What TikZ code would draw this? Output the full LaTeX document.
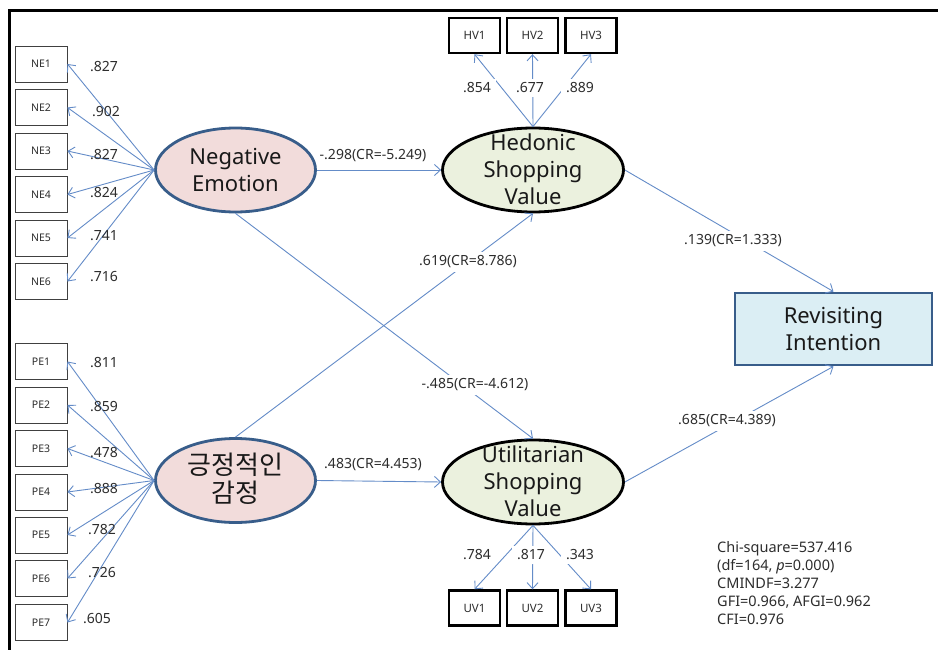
\documentclass[tikz,border=0pt]{standalone}
\usepackage{fontspec}
\setmainfont{Noto Sans}
\newfontfamily\kofont{Noto Sans CJK KR}
\usetikzlibrary{arrows.meta,shapes.geometric}
\definecolor{arr}{RGB}{100,140,200}
\definecolor{pinkf}{RGB}{242,220,219}
\definecolor{greenf}{RGB}{235,241,222}
\definecolor{bluef}{RGB}{219,238,244}
\definecolor{navy}{RGB}{56,93,138}
\definecolor{txt}{RGB}{45,45,45}
\begin{document}
\begin{tikzpicture}[x=1pt,y=-1pt,
  obsbox/.style={draw=black!75, line width=0.9pt, minimum width=52pt, minimum height=36pt, inner sep=0pt, font=\fontsize{10.5}{12}\selectfont, text=txt},
  hvbox/.style={draw=black, line width=2.4pt, minimum width=51pt, minimum height=35pt, inner sep=0pt, font=\fontsize{11.5}{13}\selectfont, text=txt},
  latent/.style={ellipse, draw=navy, line width=2.8pt, fill=pinkf, inner sep=0pt, minimum width=160pt, minimum height=84pt},
  valell/.style={ellipse, draw=black, line width=2.8pt, fill=greenf, inner sep=0pt, minimum width=181pt, minimum height=84pt},
  big/.style={align=center, inner sep=0pt, font=\fontsize{22}{27}\selectfont, text=black!90},
  kbig/.style={align=center, inner sep=0pt, font=\fontsize{26}{28}\selectfont\kofont, text=black!90},
  ribox/.style={draw=navy, line width=2.8pt, fill=bluef, minimum width=197pt, minimum height=72pt, inner sep=0pt, align=center, font=\fontsize{22}{27}\selectfont, text=black!90},
  ar/.style={draw=arr, line width=0.9pt, -{Straight Barb[length=6pt,width=11pt]}},
  lbl/.style={font=\fontsize{14}{15}\selectfont, text=txt, inner sep=1pt},
  wlbl/.style={lbl, fill=white, inner xsep=5pt, inner ysep=4pt},
  stats/.style={font=\fontsize{14.5}{18}\selectfont, text=txt, align=left, inner sep=0pt, anchor=north west}
]
\useasboundingbox (0,0) rectangle (938,650);
\fill[white] (0,0) rectangle (938,650);
\draw[line width=3pt] (938,10.5) -- (9,10.5) -- (9,650);

% observed boxes
\foreach \i/\y in {1/64,2/107.5,3/151,4/194.5,5/238,6/281.5}
  \node[obsbox] (ne\i) at (41,\y) {NE\i};
\foreach \i/\y in {1/361.5,2/405,3/448.5,4/492,5/535,6/578.5,7/622.5}
  \node[obsbox] (pe\i) at (41,\y) {PE\i};
\foreach \i/\x in {1/474.5,2/532.5,3/591}
  \node[hvbox] (hv\i) at (\x,35.5) {HV\i};
\foreach \i/\x in {1/474.5,2/532.5,3/591}
  \node[hvbox] (uv\i) at (\x,608) {UV\i};

% latent variables
\node[latent] (ne) at (235.5,170) {};
\node[big] (net) at (235.5,170) {Negative\\Emotion};
\node[latent] (pe) at (235.5,480.5) {};
\node[kbig] (pet) at (235.5,479) {긍정적인\\감정};
\node[valell] (hv) at (533,170) {};
\node[big] (hvt) at (533,169) {Hedonic\\Shopping\\Value};
\node[valell] (uv) at (533,482) {};
\node[big] (uvt) at (533,481) {Utilitarian\\Shopping\\Value};
\node[ribox] (ri) at (833.5,329) {Revisiting\\Intention};

% loadings
\foreach \i in {1,...,6} \draw[ar] (ne.west) -- (ne\i.east);
\foreach \i in {1,...,7} \draw[ar] (pe.west) -- (pe\i.east);
\foreach \i in {1,2,3} \draw[ar] (hv.north) -- (hv\i.south);
\foreach \i in {1,2,3} \draw[ar] (uv.south) -- (uv\i.north);

% structural paths
\draw[ar] (ne.east) -- (hv.west);
\draw[ar] (pe.east) -- (uv.west);
\draw[ar] (ne.south) -- (uv.north);
\draw[ar] (pe.north) -- (hv.south);
\draw[ar] (hv.east) -- (ri.north);
\draw[ar] (uv.east) -- (ri.south);

% loading labels
\node[lbl] (lne1) at (104,67) {.827};
\node[lbl] (lne2) at (106,112) {.902};
\node[lbl] (lne3) at (104,155) {.827};
\node[lbl] (lne4) at (104,193) {.824};
\node[lbl] (lne5) at (104,236) {.741};
\node[lbl] (lne6) at (104,277) {.716};
\node[lbl] (lpe1) at (104,363) {.811};
\node[lbl] (lpe2) at (104,407) {.859};
\node[lbl] (lpe3) at (104,453) {.478};
\node[lbl] (lpe4) at (104,489) {.888};
\node[lbl] (lpe5) at (102,530) {.782};
\node[lbl] (lpe6) at (102,573) {.726};
\node[lbl] (lpe7) at (97,619) {.605};

\node[wlbl] (lhv1) at (477,88) {.854};
\node[wlbl] (lhv2) at (530,88) {.677};
\node[wlbl] (lhv3) at (580,88) {.889};
\node[wlbl] (luv1) at (477,555) {.784};
\node[wlbl] (luv2) at (531,555) {.817};
\node[wlbl] (luv3) at (580,555) {.343};

% path labels
\node[lbl] (p1) at (373,156) {-.298(CR=-5.249)};
\node[lbl] (p2) at (373,465) {.483(CR=4.453)};
\node[wlbl] (p3) at (468,262) {.619(CR=8.786)};
\node[wlbl] (p4) at (475,385) {-.485(CR=-4.612)};
\node[wlbl] (p5) at (733,241) {.139(CR=1.333)};
\node[wlbl] (p6) at (727,421) {.685(CR=4.389)};

% fit statistics
\node[stats] (fit) at (717,541) {Chi-square=537.416\\(df=164, \textit{p}=0.000)\\CMINDF=3.277\\GFI=0.966, AFGI=0.962\\CFI=0.976};
\end{tikzpicture}
\end{document}
